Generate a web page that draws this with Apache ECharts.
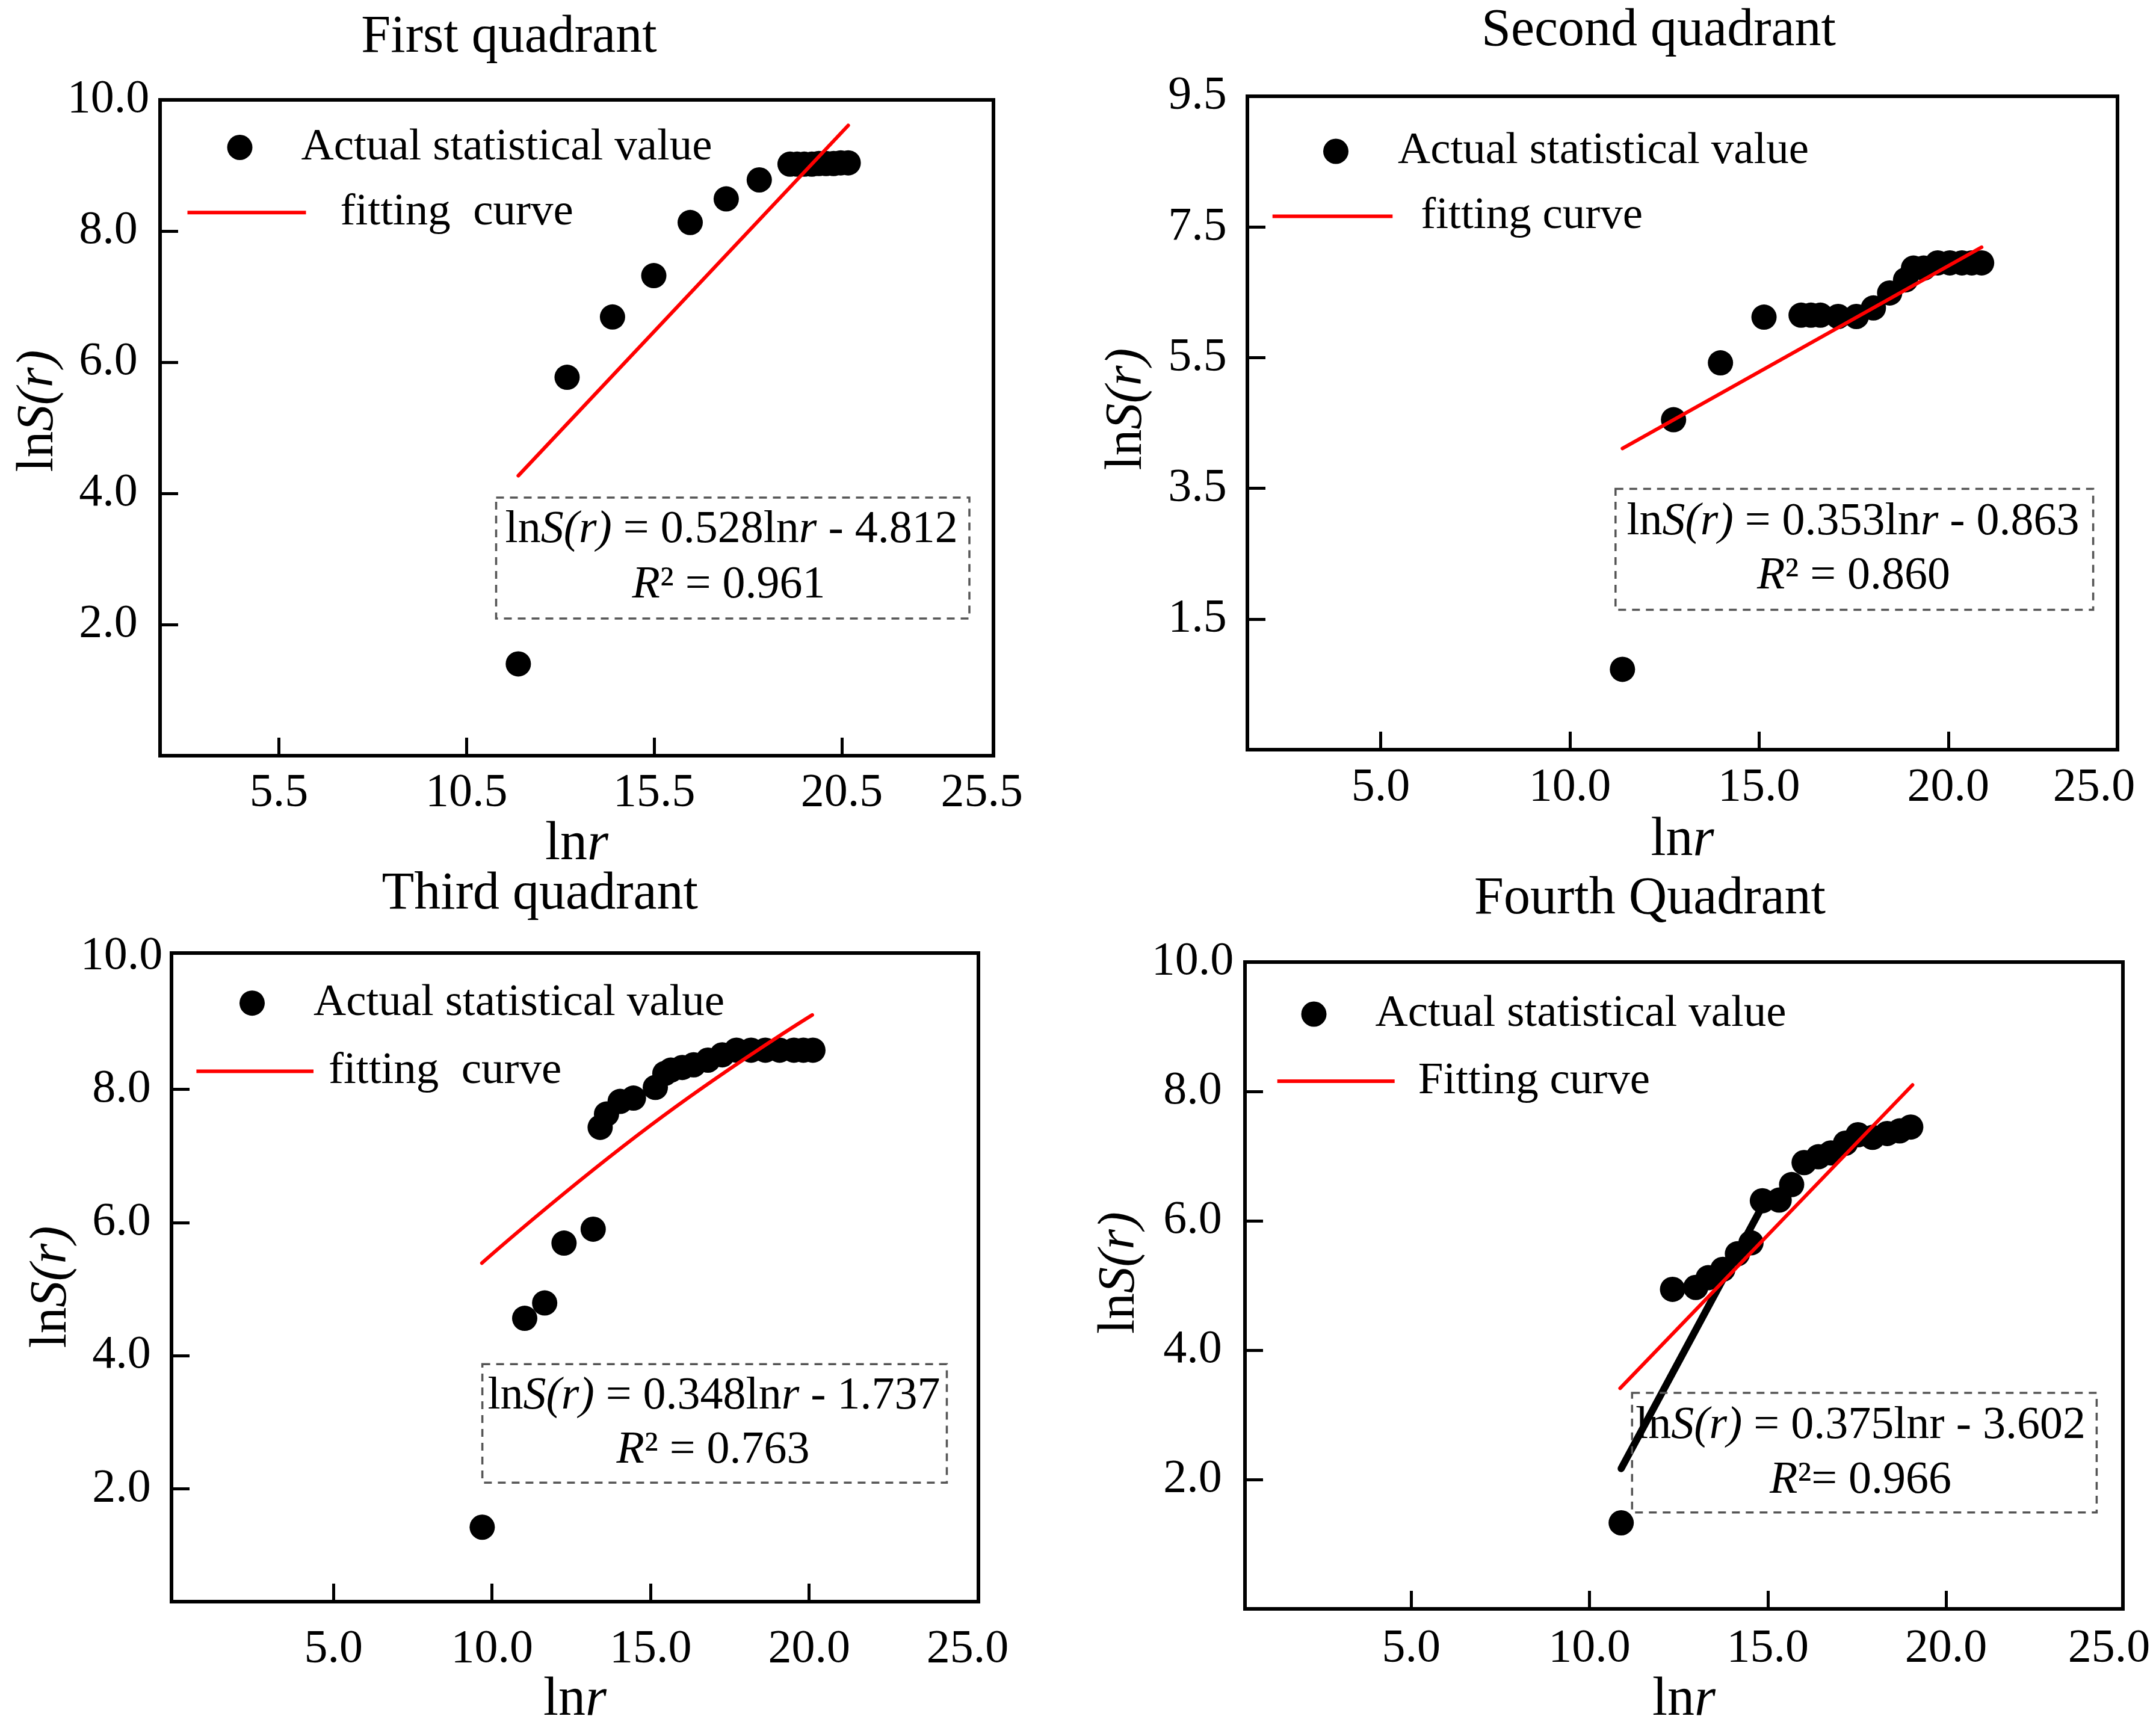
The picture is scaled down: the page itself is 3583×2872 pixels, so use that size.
<!DOCTYPE html>
<html>
<head>
<meta charset="utf-8">
<script src="https://cdn.jsdelivr.net/npm/echarts@6.0.0/dist/echarts.min.js"></script>
<style>
html,body{margin:0;padding:0;background:#fff;}
#chart{width:3583px;height:2872px;}
</style>
</head>
<body>
<div id="chart"></div>
<script>
// ---------------- DATA ----------------
const scatterName = 'Actual statistical value';

// First quadrant
const q1Title = 'First quadrant';
const q1X = [11.88, 13.18, 14.39, 15.49, 16.46, 17.42, 18.30, 19.12, 19.31, 19.50, 19.70, 19.89, 20.08, 20.28, 20.47, 20.67];
const q1Y = [1.40, 5.77, 6.69, 7.32, 8.13, 8.49, 8.78, 9.02, 9.02, 9.02, 9.02, 9.03, 9.03, 9.03, 9.04, 9.04];
const q1FitName = 'fitting  curve';
const q1FitX = [11.88, 20.67];
const q1FitY = [4.27, 9.61];
const q1XLabels = [5.5, 10.5, 15.5, 20.5];
const q1XEdge = 25.5;
const q1YLabels = [2, 4, 6, 8, 10];
const q1Eq1 = '{n|ln}{i|S(r)}{n| = 0.528ln}{i|r}{n| - 4.812}';
const q1Eq2 = '{i|R}{n|² = 0.961}';

// Second quadrant
const q2Title = 'Second quadrant';
const q2X = [11.39, 12.74, 13.98, 15.13, 16.11, 16.37, 16.62, 17.09, 17.57, 18.02, 18.45, 18.87, 19.08, 19.35, 19.72, 20.04, 20.36, 20.62, 20.88];
const q2Y = [0.73, 4.55, 5.42, 6.12, 6.15, 6.15, 6.15, 6.13, 6.13, 6.26, 6.49, 6.69, 6.87, 6.87, 6.95, 6.95, 6.95, 6.95, 6.95];
const q2FitName = 'fitting curve';
const q2FitX = [11.39, 20.88];
const q2FitY = [4.11, 7.19];
const q2XLabels = [5, 10, 15, 20];
const q2XEdge = 25;
const q2YLabels = [1.5, 3.5, 5.5, 7.5, 9.5];
const q2Eq1 = '{n|ln}{i|S(r)}{n| = 0.353ln}{i|r}{n| - 0.863}';
const q2Eq2 = '{i|R}{n|² = 0.860}';

// Third quadrant
const q3Title = 'Third quadrant';
const q3X = [9.69, 11.03, 11.66, 12.27, 13.19, 13.41, 13.61, 14.04, 14.46, 15.15, 15.45, 15.64, 16.00, 16.36, 16.81, 17.26, 17.71, 18.17, 18.62, 19.07, 19.52, 19.82, 20.12];
const q3Y = [1.42, 4.56, 4.79, 5.69, 5.90, 7.43, 7.63, 7.82, 7.87, 8.03, 8.24, 8.29, 8.33, 8.37, 8.44, 8.52, 8.59, 8.59, 8.59, 8.59, 8.59, 8.59, 8.59];
const q3FitName = 'fitting  curve ';
const q3FitX = [9.68, 15.00, 20.10];
const q3FitY = [5.39, 7.46, 9.12];
const q3XLabels = [5, 10, 15, 20, 25];
const q3XEdge = null;
const q3YLabels = [2, 4, 6, 8, 10];
const q3Eq1 = '{n|ln}{i|S(r)}{n| = 0.348ln}{i|r}{n| - 1.737}';
const q3Eq2 = '{i|R}{n|² = 0.763}';

// Fourth quadrant
const q4Title = 'Fourth Quadrant';
const q4X = [10.89, 12.33, 12.98, 13.33, 13.74, 14.15, 14.53, 14.85, 15.32, 15.67, 16.02, 16.42, 16.77, 17.18, 17.53, 17.94, 18.35, 18.70, 19.01];
const q4Y = [1.33, 4.94, 4.97, 5.12, 5.25, 5.49, 5.66, 6.31, 6.32, 6.56, 6.90, 6.99, 7.05, 7.20, 7.33, 7.29, 7.35, 7.39, 7.45];
const q4FitName = 'Fitting curve';
const q4FitX = [10.86, 19.06];
const q4FitY = [3.41, 8.10];
const q4BlackX = [10.89, 14.90];
const q4BlackY = [2.17, 6.28];
const q4XLabels = [5, 10, 15, 20];
const q4XEdge = 25;
const q4YLabels = [2, 4, 6, 8, 10];
const q4Eq1 = '{n|ln}{i|S(r)}{n| = 0.375lnr - 3.602}';
const q4Eq2 = '{i|R}{n|²= 0.966}';

// ---------------- LAYOUT / STYLE ----------------
const FONT = 'Liberation Serif';
const layout = [
  {grid:{left:266,top:166,width:1385,height:1090}, x:[2.335,24.54], y:[0,10], xEdgeAt:24.23,
   titlePos:[846,63], xLabelMargin:24, yLabelMargin:86, xNameGap:96, yNameGap:156, yNamePad:[0,0,0,56],
   dot:{left:377.5,top:207.5,pad:76}, line:{left:311.5,top:315.8,w:197,pad:52},
   box:[824.5,827,786.5,201], eq1:[1215.6,880.8], eq2:[1211,973]},
  {grid:{left:2073,top:160,width:1446,height:1086}, x:[1.48,24.47], y:[-0.5,9.5], xEdgeAt:23.85,
   titlePos:[2756.5,52], xLabelMargin:25, yLabelMargin:83, xNameGap:106, yNameGap:156, yNamePad:[0,0,0,46],
   dot:{left:2199,top:214,pad:77}, line:{left:2114.7,top:322,w:199.6,pad:42},
   box:[2684.8,812.6,793.8,200.9], eq1:[3079.5,868], eq2:[3080.5,958]},
  {grid:{left:285,top:1584,width:1341,height:1091}, x:[-0.11,25.34], y:[0.30,10.05], xEdgeAt:null,
   titlePos:[897.3,1487], xLabelMargin:40, yLabelMargin:83, xNameGap:103, yNameGap:148, yNamePad:[0,32,0,0],
   dot:{left:398,top:1629.7,pad:76}, line:{left:326.4,top:1743,w:194.6,pad:20},
   box:[801.6,2267.3,771.9,197], eq1:[1186.5,2321], eq2:[1185,2411]},
  {grid:{left:2069,top:1599,width:1459,height:1075}, x:[0.34,24.96], y:[0,10], xEdgeAt:24.57,
   titlePos:[2742,1495], xLabelMargin:28, yLabelMargin:87, xNameGap:100, yNameGap:164, yNamePad:[0,0,0,42],
   dot:{left:2162.5,top:1648,pad:76}, line:{left:2122.7,top:1759.5,w:195,pad:34},
   box:[2712.3,2315,772.1,198.8], eq1:[3092,2370], eq2:[3092,2460.6]}
];

const panels = [
  {title:q1Title, px:q1X, py:q1Y, fx:q1FitX, fy:q1FitY, fitName:q1FitName, xLabels:q1XLabels, xEdge:q1XEdge, yLabels:q1YLabels, eq1:q1Eq1, eq2:q1Eq2, smooth:false},
  {title:q2Title, px:q2X, py:q2Y, fx:q2FitX, fy:q2FitY, fitName:q2FitName, xLabels:q2XLabels, xEdge:q2XEdge, yLabels:q2YLabels, eq1:q2Eq1, eq2:q2Eq2, smooth:false},
  {title:q3Title, px:q3X, py:q3Y, fx:q3FitX, fy:q3FitY, fitName:q3FitName, xLabels:q3XLabels, xEdge:q3XEdge, yLabels:q3YLabels, eq1:q3Eq1, eq2:q3Eq2, smooth:0.5},
  {title:q4Title, px:q4X, py:q4Y, fx:q4FitX, fy:q4FitY, fitName:q4FitName, xLabels:q4XLabels, xEdge:q4XEdge, yLabels:q4YLabels, eq1:q4Eq1, eq2:q4Eq2, smooth:false,
   bx:q4BlackX, by:q4BlackY}
];

function pairs(xs, ys){ return xs.map((x,i)=>[x, ys[i]]); }
const fmt = v => Number(v).toFixed(1);
const labelStyle = {fontSize:78, fontFamily:FONT, color:'#000', fontWeight:'normal'};

const grids = [], xAxes = [], yAxes = [], series = [], legends = [], graphics = [];
const richEq = {
  n:{fontSize:76, fontFamily:FONT, fill:'#000'},
  i:{fontSize:76, fontFamily:FONT, fontStyle:'italic', fill:'#000'}
};

panels.forEach((p, k) => {
  const L = layout[k];
  grids.push(Object.assign({show:true, borderColor:'#000', borderWidth:6, backgroundColor:'rgba(0,0,0,0)'}, L.grid));
  const xi = xAxes.length;
  xAxes.push({
    gridIndex:k, type:'value', min:L.x[0], max:L.x[1], position:'bottom',
    axisLine:{show:false, onZero:false}, splitLine:{show:false},
    axisTick:{show:true, inside:true, length:30, lineStyle:{color:'#000', width:5},
      customValues:p.xLabels.filter(v => v < L.x[1]-0.5)},
    axisLabel:Object.assign({customValues:p.xLabels, formatter:fmt, margin:L.xLabelMargin}, labelStyle),
    name:'ln{i|r}', nameLocation:'middle', nameGap:L.xNameGap,
    nameTextStyle:{fontSize:90, fontFamily:FONT, color:'#000', rich:{i:{fontSize:90, fontFamily:FONT, fontStyle:'italic', color:'#000'}}}
  });
  if (p.xEdge !== null && p.xEdge !== undefined) {
    const shift = p.xEdge - L.xEdgeAt;
    xAxes.push({
      gridIndex:k, type:'value', min:L.x[0]+shift, max:L.x[1]+shift, position:'bottom',
      axisLine:{show:false, onZero:false}, splitLine:{show:false}, axisTick:{show:false},
      axisLabel:Object.assign({customValues:[p.xEdge], formatter:fmt, margin:L.xLabelMargin}, labelStyle)
    });
  }
  yAxes.push({
    gridIndex:k, type:'value', min:L.y[0], max:L.y[1],
    axisLine:{show:false, onZero:false}, splitLine:{show:false},
    axisTick:{show:true, inside:true, length:30, lineStyle:{color:'#000', width:5},
      customValues:p.yLabels.filter(v => v < L.y[1]-0.5)},
    axisLabel:Object.assign({customValues:p.yLabels, formatter:fmt, align:'center', margin:L.yLabelMargin}, labelStyle),
    name:'ln{i|S(r)}', nameLocation:'middle', nameGap:L.yNameGap, nameRotate:90,
    nameTextStyle:{fontSize:87, fontFamily:FONT, color:'#000', padding:L.yNamePad,
      rich:{i:{fontSize:87, fontFamily:FONT, fontStyle:'italic', color:'#000'}}}
  });
  if (p.bx) {
    series.push({type:'line', name:'black curve', xAxisIndex:xi, yAxisIndex:k, data:pairs(p.bx, p.by),
      symbol:'none', z:1, lineStyle:{color:'#000', width:12, cap:'round'}});
  }
  series.push({type:'scatter', name:scatterName, xAxisIndex:xi, yAxisIndex:k, data:pairs(p.px, p.py),
    symbol:'circle', symbolSize:42, z:2, itemStyle:{color:'#000', opacity:1}});
  series.push({type:'line', name:p.fitName, xAxisIndex:xi, yAxisIndex:k, data:pairs(p.fx, p.fy),
    symbol:'none', smooth:p.smooth, z:3, lineStyle:{color:'#ff0000', width:6, cap:'round'}, itemStyle:{color:'#ff0000'}});

  legends.push({data:[scatterName], left:L.dot.left, top:L.dot.top, padding:0, itemWidth:42, itemHeight:42,
    icon:'circle', selectedMode:false, itemStyle:{color:'#000', opacity:1},
    textStyle:{fontSize:75, fontFamily:FONT, color:'#000', padding:[0,0,0,L.dot.pad]}});
  legends.push({data:[p.fitName], left:L.line.left, top:L.line.top, padding:0, itemWidth:L.line.w, itemHeight:6,
    icon:'rect', selectedMode:false, itemStyle:{color:'#ff0000', opacity:1},
    textStyle:{fontSize:75, fontFamily:FONT, color:'#000', padding:[0,0,0,L.line.pad]}});

  graphics.push({type:'text', x:L.titlePos[0], y:L.titlePos[1], z:10,
    style:{text:p.title, fontSize:88, fontFamily:FONT, fill:'#000', align:'center', verticalAlign:'middle'}});
  graphics.push({type:'rect', z:10, shape:{x:L.box[0], y:L.box[1], width:L.box[2], height:L.box[3]},
    style:{fill:'none', stroke:'#555', lineWidth:3.5, lineDash:[13,10]}});
  graphics.push({type:'text', x:L.eq1[0], y:L.eq1[1], z:10,
    style:{text:p.eq1, rich:richEq, fontSize:76, fontFamily:FONT, fill:'#000', align:'center', verticalAlign:'middle'}});
  graphics.push({type:'text', x:L.eq2[0], y:L.eq2[1], z:10,
    style:{text:p.eq2, rich:richEq, fontSize:76, fontFamily:FONT, fill:'#000', align:'center', verticalAlign:'middle'}});
});

const chart = echarts.init(document.getElementById('chart'), null, {renderer:'canvas'});
chart.setOption({
  animation:false,
  backgroundColor:'#fff',
  textStyle:{fontFamily:FONT},
  grid:grids, xAxis:xAxes, yAxis:yAxes, series:series, legend:legends, graphic:graphics
});
</script>
</body>
</html>
